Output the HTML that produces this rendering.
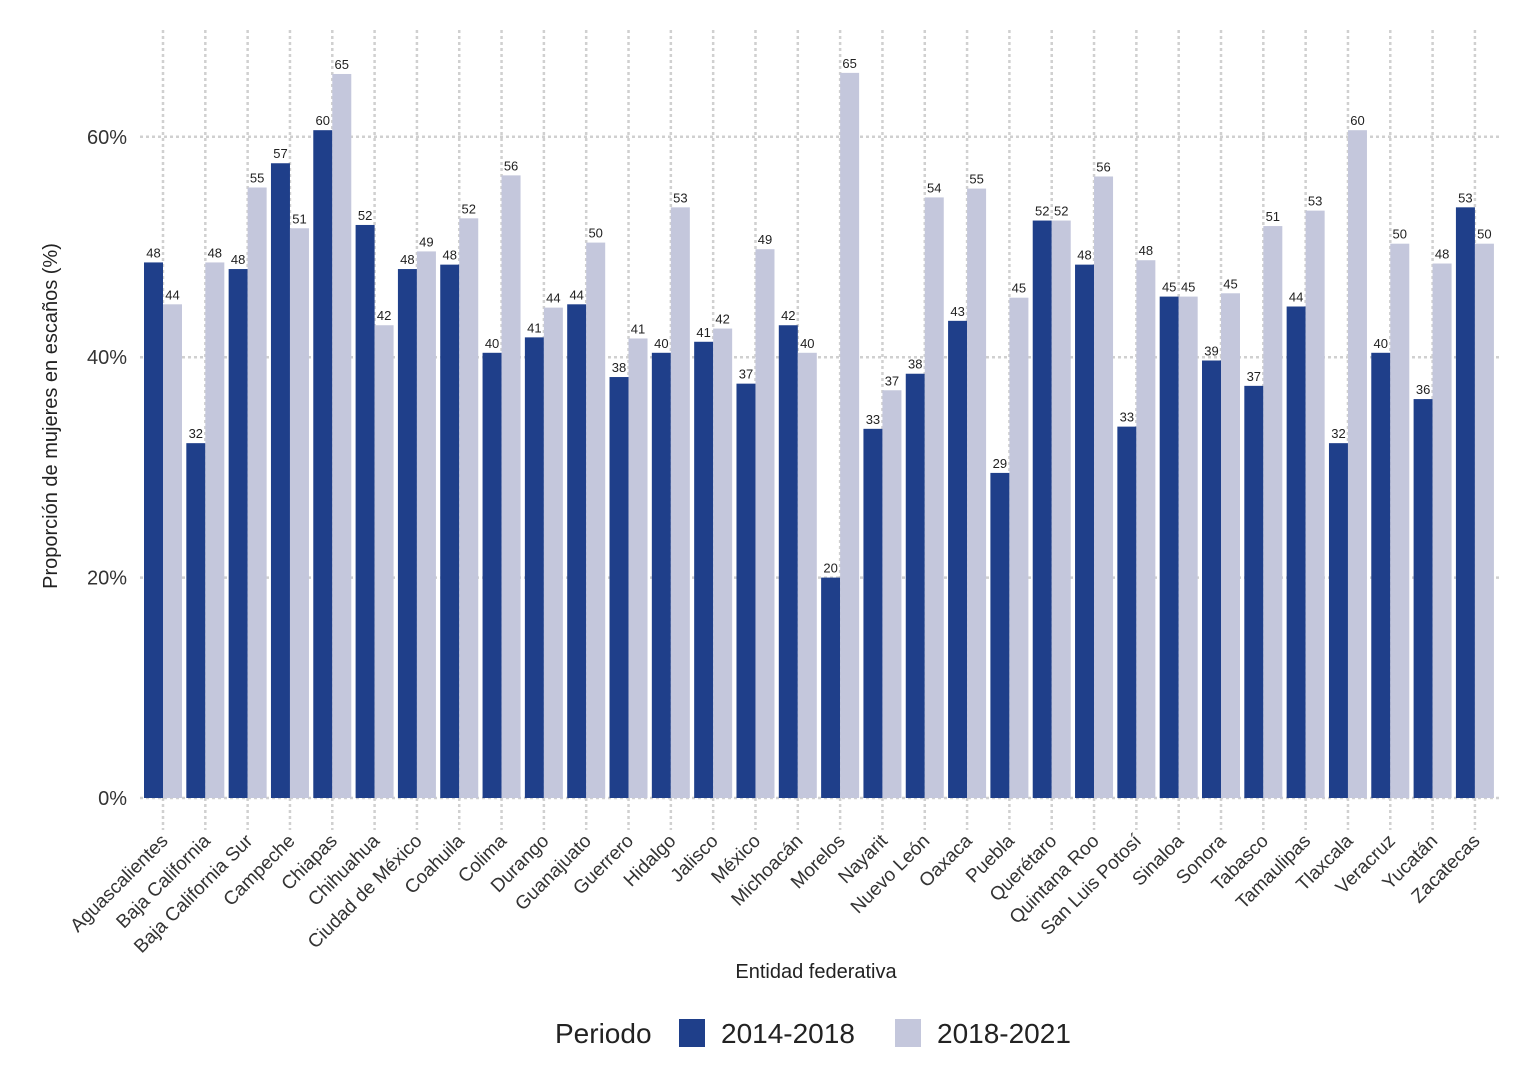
<!DOCTYPE html>
<html><head><meta charset="utf-8"><style>
body{margin:0;background:#fff;}
svg text{font-family:"Liberation Sans",sans-serif;}
</style></head><body>
<svg id="c" width="1523" height="1071" xmlns="http://www.w3.org/2000/svg" style="position:absolute;left:0;top:0"></svg>
<svg style="position:absolute;left:0;top:0" width="1523" height="1071" xmlns="http://www.w3.org/2000/svg">
<text transform="translate(57,416) rotate(-90)" text-anchor="middle" font-size="20" fill="#222">Proporción de mujeres en escaños (%)</text>
<text x="816" y="978" text-anchor="middle" font-size="20" fill="#222">Entidad federativa</text>
<g>
<text x="555" y="1043" font-size="28" fill="#222">Periodo</text>
<rect x="679" y="1019" width="26" height="28" fill="#1f3f8a"/>
<text x="721" y="1043" font-size="28" fill="#222">2014-2018</text>
<rect x="895" y="1019" width="26" height="28" fill="#c4c7dc"/>
<text x="937" y="1043" font-size="28" fill="#222">2018-2021</text>
</g>
</svg>
<script>
const categories=["Aguascalientes","Baja California","Baja California Sur","Campeche","Chiapas","Chihuahua","Ciudad de México","Coahuila","Colima","Durango","Guanajuato","Guerrero","Hidalgo","Jalisco","México","Michoacán","Morelos","Nayarit","Nuevo León","Oaxaca","Puebla","Querétaro","Quintana Roo","San Luis Potosí","Sinaloa","Sonora","Tabasco","Tamaulipas","Tlaxcala","Veracruz","Yucatán","Zacatecas"];
const series2014=[48.6,32.2,48.0,57.6,60.6,52.0,48.0,48.4,40.4,41.8,44.8,38.2,40.4,41.4,37.6,42.9,20.0,33.5,38.5,43.3,29.5,52.4,48.4,33.7,45.5,39.7,37.4,44.6,32.2,40.4,36.2,53.6];
const series2018=[44.8,48.6,55.4,51.7,65.7,42.9,49.6,52.6,56.5,44.5,50.4,41.7,53.6,42.6,49.8,40.4,65.8,37.0,54.5,55.3,45.4,52.4,56.4,48.8,45.5,45.8,51.9,53.3,60.6,50.3,48.5,50.3];
const yTicks=[0,20,40,60];
const svgEl=document.getElementById('c');const NS="http://www.w3.org/2000/svg";
function mk(t,a){const e=document.createElementNS(NS,t);for(const k in a)e.setAttribute(k,a[k]);svgEl.appendChild(e);return e;}
const yScale=v=>798-v*11.02;
const xScale=i=>163+i*42.32;
const plotL=140,plotR=1502,plotT=30;
yTicks.forEach(t=>{
 const l=mk('line',{x1:plotL,x2:plotR,y1:yScale(t),y2:yScale(t),stroke:'#d0d0d0','stroke-width':2.5,'stroke-dasharray':'3,3'});
 
 
 const tx=mk('text',{x:127,y:yScale(t)+7,'text-anchor':'end','font-size':20,fill:'#333'});tx.textContent=t+'%';
 
 
});
categories.forEach((c,i)=>{
 const l=mk('line',{x1:xScale(i),x2:xScale(i),y1:plotT,y2:830,stroke:'#d0d0d0','stroke-width':2.5,'stroke-dasharray':'3,3'});
 
 
});
categories.forEach((c,i)=>{
 [[series2014,'#1f3f8a',-19],[series2018,'#c4c7dc',0]].forEach(([s,col,off],k)=>{
  const v=s[i];
  const r=mk('rect',{x:xScale(i)+off,y:yScale(v),width:19,height:yScale(0)-yScale(v),fill:col});
  
  
  const t=mk('text',{x:xScale(i)+off+9.5,y:yScale(v)-5,'text-anchor':'middle','font-size':13,fill:'#222'});t.textContent=Math.floor(v);
  
  
 });
 const t=mk('text',{x:0,y:0,'text-anchor':'end','font-size':19,fill:'#333',transform:`translate(${xScale(i)+6},842) rotate(-45)`});t.textContent=c;
 
 
});
</script>
</body></html>
